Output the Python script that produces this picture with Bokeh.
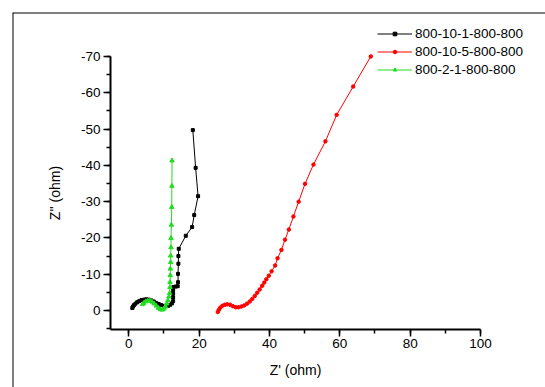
from bokeh.plotting import figure
from bokeh.models import (Range1d, SingleIntervalTicker, Legend, LegendItem, Span,
                          PrintfTickFormatter)
from bokeh.embed import file_html
from bokeh.resources import INLINE

# ---- data ----
black_x = [1.0, 1.2, 1.5, 1.9, 2.4, 3.0, 3.6, 4.3, 5.0, 5.7, 6.4, 7.1, 7.8, 8.5, 9.2, 9.9,
           10.6, 11.2, 11.8, 12.3, 12.6, 12.6, 12.6, 12.6, 12.7, 13.3, 13.9, 14.0, 14.0,
           14.1, 14.1, 14.2, 16.2, 18.0, 18.6, 19.7, 19.0, 18.2]
black_y = [-0.7, -1.1, -1.5, -1.9, -2.3, -2.6, -2.9, -3.0, -3.1, -3.0, -2.8, -2.5, -2.1, -1.8,
           -1.5, -1.3, -1.2, -1.3, -1.6, -2.0, -2.6, -3.6, -4.6, -5.6, -6.5, -6.6, -6.7, -7.8,
           -10.1, -12.9, -15.0, -17.0, -20.6, -23.0, -26.3, -31.5, -39.3, -49.7]

red_x = [25.3, 25.6, 26.0, 26.6, 27.3, 28.0, 28.8, 29.6, 30.4, 31.2, 32.0, 32.8, 33.6, 34.4,
         35.1, 35.8, 36.5, 37.2, 37.9, 38.5, 39.1, 39.8, 40.6, 41.6, 42.3, 43.4, 44.4, 45.5,
         46.8, 48.3, 50.1, 52.5, 55.9, 59.1, 63.8, 68.8]
red_y = [0.4, -0.2, -0.8, -1.3, -1.6, -1.7, -1.6, -1.2, -0.9, -0.9, -1.1, -1.4, -1.9, -2.5,
         -3.2, -4.0, -4.9, -5.8, -6.8, -7.7, -8.6, -9.6, -10.8, -12.4, -14.4, -16.7, -19.5,
         -22.3, -25.9, -30.0, -34.9, -40.2, -46.6, -53.9, -61.7, -70.0]

green_x = [3.9, 4.3, 4.8, 5.4, 6.0, 6.6, 7.2, 7.8, 8.4, 9.0, 9.5, 10.0, 10.4, 10.8, 11.1,
           11.4, 11.6, 11.7, 11.7, 11.8, 11.8, 11.9, 11.9, 12.0, 12.0, 12.1, 12.2, 12.25, 12.3]
green_y = [-1.7, -2.1, -2.5, -2.7, -2.7, -2.4, -1.9, -1.3, -0.7, -0.3, -0.2, -0.5, -1.1, -1.9,
           -2.8, -3.8, -4.8, -6.4, -7.8, -9.7, -11.5, -13.3, -15.1, -17.4, -19.9, -23.6,
           -28.5, -34.3, -41.3]

labels = ["800-10-1-800-800", "800-10-5-800-800", "800-2-1-800-800"]
colors = ["#000000", "#ff0000", "#22dd22"]

x_axis_span = (-5.2, 100)
y_axis_span = (-70, 5.2)

FONT = "Liberation Sans"

X0, X1 = -33.07, 118.48
Y_BOTTOM, Y_TOP = 21.2, -82.1

p = figure(width=545, height=387, output_backend="svg", toolbar_location=None,
           x_range=Range1d(X0, X1), y_range=Range1d(Y_BOTTOM, Y_TOP),
           min_border=0, min_border_left=12, min_border_top=12,
           min_border_right=0, min_border_bottom=0)
p.outline_line_color = None
p.xgrid.visible = False
p.ygrid.visible = False
p.background_fill_color = "white"
p.border_fill_color = "white"

# picture frame: left and top edges
p.add_layout(Span(location=X0, dimension="height", line_color="black", line_width=2))
p.add_layout(Span(location=Y_TOP, dimension="width", line_color="black", line_width=2))

l1 = p.line(black_x, black_y, line_color=colors[0], line_width=1)
s1 = p.scatter(black_x, black_y, marker="square", size=3, color=colors[0])
l2 = p.line(red_x, red_y, line_color=colors[1], line_width=1)
s2 = p.scatter(red_x, red_y, marker="circle", size=3.5, color=colors[1])
l3 = p.line(green_x, green_y, line_color=colors[2], line_width=1)
s3 = p.scatter(green_x, green_y, marker="triangle", size=4.5, color=colors[2])

xa = p.xaxis[0]
ya = p.yaxis[0]
xa.fixed_location = y_axis_span[1]
ya.fixed_location = x_axis_span[0]
for ax, interval, bounds in ((xa, 20, x_axis_span), (ya, 10, y_axis_span)):
    ax.ticker = SingleIntervalTicker(interval=interval, num_minor_ticks=2)
    ax.formatter = PrintfTickFormatter(format="%d")
    ax.bounds = bounds
    ax.axis_line_width = 2
    ax.axis_line_color = "black"
    ax.major_tick_line_width = 1.5
    ax.minor_tick_line_width = 1.5
    ax.major_tick_out = 7
    ax.major_tick_in = 0
    ax.minor_tick_out = 4
    ax.minor_tick_in = 0
    ax.major_label_text_font = FONT
    ax.major_label_text_font_size = "13.5px"
    ax.major_label_text_color = "black"
    ax.axis_label_text_font = FONT
    ax.axis_label_text_font_size = "14px"
    ax.axis_label_text_font_style = "normal"
    ax.axis_label_text_color = "black"

xa.axis_label = "Z' (ohm)"
ya.axis_label = "Z'' (ohm)"
xa.major_label_standoff = 3
xa.axis_label_standoff = 10
ya.major_label_standoff = 3
ya.axis_label_standoff = 15

legend = Legend(items=[LegendItem(label=labels[0], renderers=[l1, s1]),
                       LegendItem(label=labels[1], renderers=[l2, s2]),
                       LegendItem(label=labels[2], renderers=[l3, s3])],
                location=(365, 309), orientation="vertical")
legend.border_line_color = None
legend.background_fill_alpha = 0
legend.padding = 0
legend.margin = 0
legend.spacing = 0
legend.glyph_width = 35
legend.glyph_height = 9
legend.label_height = 18
legend.label_standoff = 3
legend.label_text_font = FONT
legend.label_text_font_size = "13.5px"
legend.label_text_color = "black"
p.add_layout(legend, "center")

open("out.html", "w").write(file_html(p, INLINE))
